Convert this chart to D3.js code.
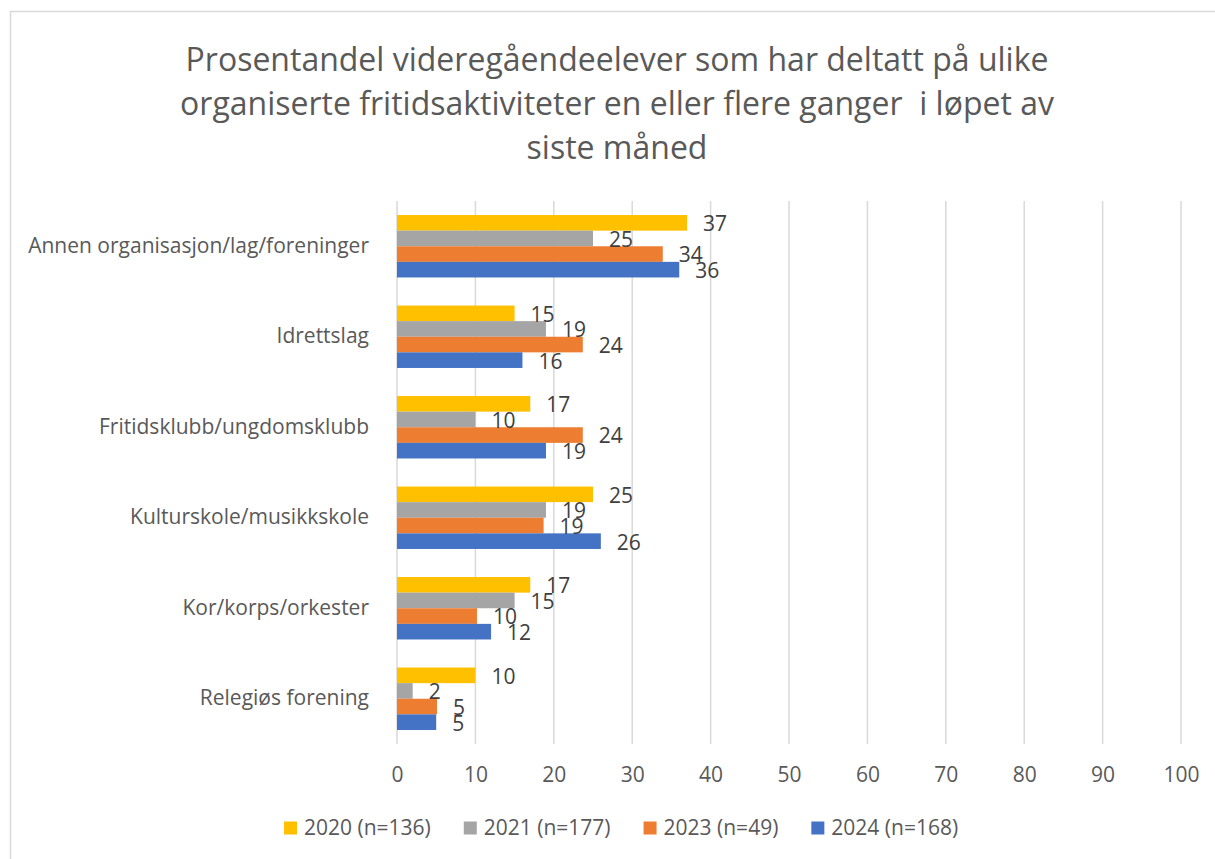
<!DOCTYPE html>
<html>
  <head>
    <meta charset="utf-8" />
    <title>Fritidsaktiviteter</title>
    <script src="https://d3js.org/d3.v7.min.js" charset="utf-8"></script>
    <style>
      body { margin: 0; background: #fff; }
      svg { font-family: "Open Sans", sans-serif; }
    </style>
  </head>
  <body>
    <svg id="canvas" width="1215" height="859"></svg>
    <script>
      // data
      var categories = [
        "Annen organisasjon/lag/foreninger",
        "Idrettslag",
        "Fritidsklubb/ungdomsklubb",
        "Kulturskole/musikkskole",
        "Kor/korps/orkester",
        "Relegiøs forening"
      ];
      var seriesNames = ["2020 (n=136)", "2021 (n=177)", "2023 (n=49)", "2024 (n=168)"];
      var values2020 = [37, 15, 17, 25, 17, 10];
      var values2021 = [25, 19, 10, 19, 15, 2];
      var values2023 = [33.9, 23.7, 23.7, 18.7, 10.2, 5.1];
      var values2024 = [36, 16, 19, 26, 12, 5];
      var xTicks = [0, 10, 20, 30, 40, 50, 60, 70, 80, 90, 100];
      var titleLines = [
        "Prosentandel videregåendeelever som har deltatt på ulike",
        "organiserte fritidsaktiviteter en eller flere ganger  i løpet av",
        "siste måned"
      ];

      var colors = ["#FFC000", "#A5A5A5", "#ED7D31", "#4472C4"];
      var allValues = [values2020, values2021, values2023, values2024];

      let canvas = d3.select("#canvas");

      // chart frame
      canvas.append("rect")
        .attr("x", 10.5).attr("y", 11.5)
        .attr("width", 1300).attr("height", 1000)
        .attr("fill", "#fff")
        .attr("stroke", "#d9d9d9")
        .attr("stroke-width", 1.5);

      // title
      canvas.append("text")
        .attr("text-anchor", "middle")
        .attr("fill", "#595959")
        .style("font-size", "32px")
        .selectAll("tspan")
        .data(titleLines)
        .enter()
        .append("tspan")
        .attr("x", 617)
        .attr("y", function (d, i) { return 60 + i * 44; })
        .attr("dy", "0.35em")
        .style("white-space", "pre")
        .text(function (d) { return d; });

      var x = d3.scaleLinear().domain([0, 100]).range([397, 1181]);
      var y = d3.scaleBand()
        .domain(categories)
        .range([201, 744])
        .paddingInner(0.31)
        .paddingOuter(0.155);
      var ySeries = d3.scaleBand()
        .domain(seriesNames)
        .range([0, y.bandwidth()]);

      // gridlines
      canvas.append("g")
        .selectAll("line")
        .data(xTicks)
        .enter()
        .append("line")
        .attr("x1", function (d) { return x(d); })
        .attr("x2", function (d) { return x(d); })
        .attr("y1", 201)
        .attr("y2", 744)
        .attr("stroke", "#d9d9d9")
        .attr("stroke-width", 1.5);

      // x axis labels
      var xAxis = canvas.append("g")
        .attr("transform", "translate(0,744)")
        .call(d3.axisBottom(x).tickValues(xTicks).tickSize(0).tickPadding(23));
      xAxis.select(".domain").remove();
      xAxis.selectAll("text")
        .attr("fill", "#595959")
        .style("font-size", "21px")
        .style("font-family", "Open Sans, sans-serif");

      // y axis labels
      var yAxis = canvas.append("g")
        .attr("transform", "translate(369,0)")
        .call(d3.axisLeft(y).tickSize(0).tickPadding(0));
      yAxis.select(".domain").remove();
      yAxis.selectAll("text")
        .attr("fill", "#595959")
        .style("font-size", "21px")
        .style("font-family", "Open Sans, sans-serif");

      // bars
      var groups = canvas.append("g")
        .selectAll("g")
        .data(categories)
        .enter()
        .append("g")
        .attr("transform", function (d) { return "translate(0," + y(d) + ")"; });

      seriesNames.forEach(function (s, si) {
        groups.append("rect")
          .attr("x", x(0))
          .attr("y", ySeries(s))
          .attr("height", ySeries.bandwidth())
          .attr("width", function (d, i) { return x(allValues[si][i]) - x(0); })
          .attr("fill", colors[si]);
      });

      seriesNames.forEach(function (s, si) {
        groups.append("text")
          .attr("x", function (d, i) { return x(allValues[si][i]) + 16; })
          .attr("y", ySeries(s) + ySeries.bandwidth() / 2 + 1)
          .attr("dy", "0.35em")
          .attr("fill", "#404040")
          .style("font-size", "21px")
          .text(function (d, i) { return Math.round(allValues[si][i]); });
      });

      // legend
      var legend = canvas.append("g").attr("transform", "translate(0,828)");
      var lx = 284;
      seriesNames.forEach(function (s, si) {
        legend.append("rect")
          .attr("x", lx).attr("y", -6.5)
          .attr("width", 13).attr("height", 13)
          .attr("fill", colors[si]);
        var t = legend.append("text")
          .attr("x", lx + 20)
          .attr("dy", "0.35em")
          .attr("fill", "#595959")
          .style("font-size", "21px")
          .text(s);
        lx += 20 + t.node().getComputedTextLength() + 33;
      });
    </script>
  </body>
</html>
